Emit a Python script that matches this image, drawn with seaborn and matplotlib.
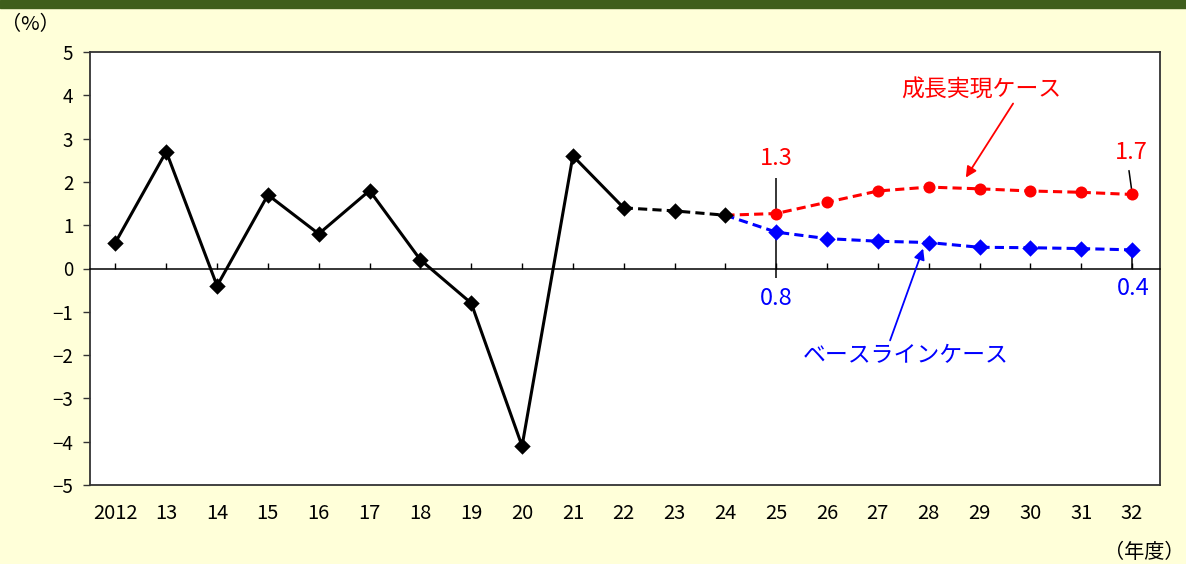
import numpy as np
import matplotlib
matplotlib.use("Agg")
import matplotlib.pyplot as plt
import seaborn as sns
from matplotlib.patches import Rectangle

# ---------------- data ----------------
years = ["2012", "13", "14", "15", "16", "17", "18", "19", "20", "21",
         "22", "23", "24", "25", "26", "27", "28", "29", "30", "31", "32"]
actual = [0.6, 2.7, -0.4, 1.7, 0.8, 1.8, 0.2, -0.8, -4.1, 2.6, 1.4]   # 2012-2022
estimate = [1.4, 1.33, 1.23]                                           # 2022-2024
growth_case = [1.27, 1.53, 1.79, 1.88, 1.84, 1.79, 1.76, 1.71]        # 2025-2032
baseline_case = [0.84, 0.69, 0.63, 0.60, 0.49, 0.48, 0.46, 0.43]      # 2025-2032
growth_name = "成長実現ケース"
baseline_name = "ベースラインケース"

sns.set_style("white")
plt.rcParams["font.family"] = ["Noto Sans CJK JP", "DejaVu Sans"]
plt.rcParams["axes.unicode_minus"] = True
plt.rcParams["text.color"] = "black"
plt.rcParams["xtick.color"] = "black"
plt.rcParams["ytick.color"] = "black"

W, H = 1186, 564
fig = plt.figure(figsize=(W / 100, H / 100), dpi=100, facecolor="#FFFFD9")
ax = fig.add_axes([90 / W, 1 - 485 / H, 1070 / W, 433 / H])
ax.set_facecolor("white")

x = np.arange(len(years))
n_act = len(actual)
x_act = x[:n_act]
x_est = x[n_act - 1:n_act - 1 + len(estimate)]
i_last = x_est[-1]
x_fc = x[i_last + 1:]
x_fc_line = x[i_last:]

dash = (0, (3.0, 1.7))
red = "#FF0000"
blue = "#0000FF"

# forecast lines (start from last estimate point)
sns.lineplot(x=x_fc_line, y=[estimate[-1]] + growth_case, ax=ax, color=red,
             linewidth=2.2, linestyle=dash, zorder=2)
sns.lineplot(x=x_fc_line, y=[estimate[-1]] + baseline_case, ax=ax, color=blue,
             linewidth=2.2, linestyle=dash, zorder=2)
sns.scatterplot(x=x_fc, y=growth_case, ax=ax, color=red, marker="o", s=75,
                linewidth=0, zorder=3)
sns.scatterplot(x=x_fc, y=baseline_case, ax=ax, color=blue, marker="D", s=70,
                linewidth=0, zorder=3)

# actual and estimate
sns.lineplot(x=x_act, y=actual, ax=ax, color="black", linewidth=2.2, zorder=4)
sns.lineplot(x=x_est, y=estimate, ax=ax, color="black", linewidth=2.2,
             linestyle=dash, zorder=4)
sns.scatterplot(x=np.concatenate([x_act, x_est[1:]]), y=actual + estimate[1:],
                ax=ax, color="black", marker="D", s=70, linewidth=0, zorder=5)

# axes
ax.set_xlim(-0.5, 20.55)
ax.set_ylim(-5, 5)
ax.set_yticks(range(-5, 6))
for s in ax.spines.values():
    s.set_color("#333333")
    s.set_linewidth(1.3)
ax.spines["bottom"].set_position(("data", 0))
ax.spines["bottom"].set_color("black")
ax.spines["bottom"].set_linewidth(1.1)
ax.set_xticks(x)
ax.tick_params(axis="x", direction="in", length=4, width=1.0, color="black",
               labelbottom=False, bottom=True)
ax.tick_params(axis="y", direction="out", length=5, width=1.0, pad=7,
               labelsize=13.5, left=True, color="#333333", labelcolor="black")
ax.set_xlabel("")
ax.set_ylabel("")

sec = ax.secondary_xaxis("bottom")
sec.set_xticks(x, labels=years)
sec.tick_params(length=0, pad=13, labelsize=14.5, labelcolor="black")
sec.spines["bottom"].set_color("#333333")
sec.spines["bottom"].set_linewidth(1.3)

# value annotations
i25 = x_fc[0]
i32 = x_fc[-1]
ax.vlines(i25, growth_case[0], growth_case[0] + 0.83, color="black", lw=1.1, zorder=1)
ax.text(i25, growth_case[0] + 1.27, f"{growth_case[0]:.1f}", color=red,
        fontsize=17, ha="center", va="center")
ax.vlines(i25, -0.21, baseline_case[0], color="black", lw=1.1, zorder=1)
ax.text(i25, -0.69, f"{baseline_case[0]:.1f}", color=blue,
        fontsize=17, ha="center", va="center")
ax.plot([i32 - 0.06, i32], [growth_case[-1] + 0.55, growth_case[-1] + 0.04],
        color="black", lw=1.1, zorder=1)
ax.text(i32 - 0.02, growth_case[-1] + 0.97, f"{growth_case[-1]:.1f}", color=red,
        fontsize=17, ha="center", va="center")
ax.vlines(i32, 0, baseline_case[-1], color="black", lw=1.1, zorder=1)
ax.text(i32 + 0.03, -0.46, f"{baseline_case[-1]:.1f}", color=blue,
        fontsize=17, ha="center", va="center")

# series labels with arrows
ax.annotate("", xy=(16.73, 2.10), xytext=(17.66, 3.81),
            arrowprops=dict(arrowstyle="-|>", color=red, lw=1.3,
                            mutation_scale=16, shrinkA=0, shrinkB=0))
ax.text(17.03, 4.11, growth_name, color=red, fontsize=16.5,
        ha="center", va="center")
ax.annotate("", xy=(15.89, 0.46), xytext=(15.24, -1.66),
            arrowprops=dict(arrowstyle="-|>", color=blue, lw=1.3,
                            mutation_scale=16, shrinkA=0, shrinkB=0))
ax.text(15.55, -2.0, baseline_name, color=blue, fontsize=16.5,
        ha="center", va="center")

# unit labels
fig.text(1 / W, 1 - 25 / H, "（%）", fontsize=14.5, ha="left", va="center")
fig.text(1185 / W, 1 - 552 / H, "（年度）", fontsize=14.5, ha="right", va="center")

# header bar
fig.add_artist(Rectangle((0, 1 - 8 / H), 1, 8 / H, transform=fig.transFigure,
                         color="#3F5E1C", zorder=0))

fig.savefig("out.png", dpi=100, facecolor=fig.get_facecolor())
